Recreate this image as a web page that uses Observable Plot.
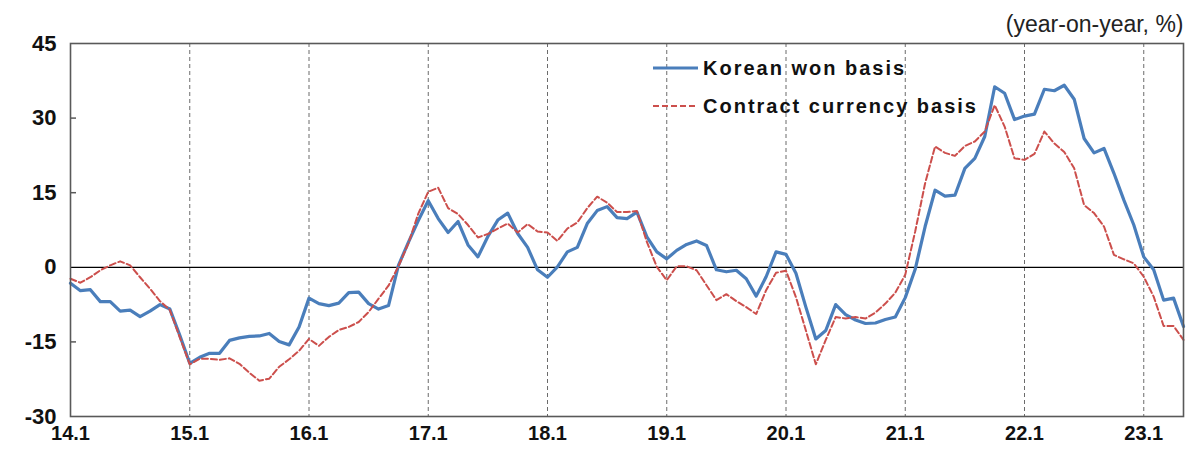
<!DOCTYPE html>
<html>
<head>
<meta charset="utf-8">
<script src="https://cdn.jsdelivr.net/npm/d3@7"></script>
<script src="https://cdn.jsdelivr.net/npm/@observablehq/plot@0.6"></script>
<style>
  html, body { margin: 0; padding: 0; background: #fff; }
  #wrap { position: relative; width: 1187px; height: 452px; font-family: "Liberation Sans", Arial, sans-serif; }
  #legend { position: absolute; left: 0; top: 0; pointer-events: none; }
</style>
</head>
<body>
<div id="wrap"></div>
<script>
// Monthly, 2014.1 .. 2023.5 (year-on-year, %)
const startYear = 2014;
const wonBasis = [
  -3.2, -4.7, -4.5, -6.9, -6.9, -8.8, -8.6, -9.9, -8.8, -7.5, -8.4, -13.7,
  -19.3, -18.1, -17.3, -17.3, -14.7, -14.2, -13.9, -13.8, -13.3, -14.9, -15.6, -12.0,
  -6.2, -7.3, -7.7, -7.2, -5.1, -5.0, -7.3, -8.4, -7.7, 0.4, 5.0, 9.4,
  13.4, 9.8, 7.0, 9.2, 4.5, 2.1, 6.2, 9.5, 10.9, 6.8, 4.0, -0.5,
  -2.0, 0.1, 3.1, 4.0, 8.8, 11.4, 12.2, 10.0, 9.8, 11.1, 6.1, 3.1,
  1.7, 3.4, 4.6, 5.3, 4.4, -0.5, -0.9, -0.6, -2.3, -5.8, -1.9, 3.1,
  2.6, -1.2, -8.0, -14.4, -12.7, -7.5, -9.5, -10.6, -11.3, -11.2, -10.5, -10.0,
  -6.1, -0.4, 8.2, 15.5, 14.3, 14.5, 19.9, 21.9, 26.3, 36.3, 35.0, 29.7,
  30.4, 30.8, 35.8, 35.5, 36.6, 33.8, 25.9, 23.0, 23.9, 18.9, 13.5, 8.5,
  2.1, -0.5, -6.6, -6.2, -11.9
];
const contractBasis = [
  -2.3, -3.1, -2.0, -0.6, 0.4, 1.2, 0.4, -2.0, -4.3, -6.8, -8.6, -14.1,
  -19.5, -18.4, -18.4, -18.6, -18.3, -19.4, -21.2, -22.8, -22.4, -20.0, -18.5, -16.8,
  -14.4, -15.8, -14.0, -12.6, -12.0, -11.0, -9.0, -6.3, -3.7, 0.2, 4.8, 10.8,
  15.2, 16.0, 11.9, 10.7, 8.5, 6.0, 6.7, 7.8, 8.8, 7.0, 8.7, 7.2,
  7.0, 5.3, 7.8, 9.0, 11.9, 14.2, 13.0, 11.1, 11.1, 11.3, 5.1, 0.1,
  -2.6, 0.2, 0.2, -0.6, -3.6, -6.6, -5.4, -6.8, -8.0, -9.4, -4.6, -1.1,
  -0.7, -6.0, -12.7, -19.5, -14.6, -10.0, -10.3, -10.0, -10.3, -9.1, -7.3, -5.1,
  -1.5, 7.2, 16.9, 24.3, 23.0, 22.4, 24.4, 25.3, 27.3, 32.6, 28.3, 21.9,
  21.6, 22.8, 27.3, 24.9, 23.2, 19.9, 12.5, 10.9, 8.2, 2.5, 1.6, 0.8,
  -1.9, -5.9, -11.8, -11.8, -14.6
];
const xTickLabels = ["14.1", "15.1", "16.1", "17.1", "18.1", "19.1", "20.1", "21.1", "22.1", "23.1"];
const yTicks = [-30, -15, 0, 15, 30, 45];
const seriesNames = ["Korean won basis", "Contract currency basis"];
const unitLabel = "(year-on-year, %)";

const months = wonBasis.map((_, i) => `${String((startYear + Math.floor(i / 12)) % 100)}.${(i % 12) + 1}`);
const rows = [];
months.forEach((m, i) => {
  rows.push({i, month: m, series: seriesNames[0], value: wonBasis[i]});
  rows.push({i, month: m, series: seriesNames[1], value: contractBasis[i]});
});
const xTickPos = xTickLabels.map((_, k) => k * 12);
const yearLines = xTickPos.slice(1);

const blue = "#4a7ebb";
const red = "#cc4f4c";

const chart = Plot.plot({
  width: 1187,
  height: 452,
  marginLeft: 70,
  marginRight: 4,
  marginTop: 43,
  marginBottom: 36,
  style: {fontFamily: "Liberation Sans, Arial, sans-serif", background: "#fff"},
  x: {domain: [0, months.length - 1]},
  y: {domain: [-30, 45]},
  marks: [
    Plot.ruleX(yearLines, {stroke: "#6b6b6b", strokeWidth: 1, strokeDasharray: "4,3"}),
    Plot.ruleY([0], {stroke: "#000", strokeWidth: 1.3}),
    Plot.axisY({ticks: [-15, 15, 30], tickSize: 6, dx: 6, tickFormat: () => "", stroke: "#595959", strokeWidth: 1.5, label: null}),
    Plot.axisY({ticks: yTicks, tickSize: 0, tickPadding: 14, tickFormat: d => String(d), fontSize: 22, fontWeight: "bold", fill: "#111", label: null, style: {letterSpacing: "3px"}}),
    Plot.axisX({ticks: xTickPos, tickSize: 0, tickPadding: 9, tickFormat: d => xTickLabels[d / 12], fontSize: 20, fontWeight: "bold", fill: "#111", label: null, style: {letterSpacing: "1.5px"}}),
    Plot.line(rows.filter(d => d.series === seriesNames[0]), {x: "i", y: "value", stroke: blue, strokeWidth: 3.2, strokeLinejoin: "round"}),
    Plot.line(rows.filter(d => d.series === seriesNames[1]), {x: "i", y: "value", stroke: red, strokeWidth: 2, strokeDasharray: "6,3"}),
    Plot.frame({stroke: "#595959", strokeWidth: 1.6}),
    Plot.text([unitLabel], {frameAnchor: "top-right", textAnchor: "end", lineAnchor: "bottom", dy: -12, dx: 0, fontSize: 23, fill: "#222", style: {letterSpacing: "1.3px"}})
  ]
});

const wrap = document.getElementById("wrap");
wrap.appendChild(chart);

// Legend overlay
const ns = "http://www.w3.org/2000/svg";
const lg = document.createElementNS(ns, "svg");
lg.setAttribute("id", "legend");
lg.setAttribute("width", 1187);
lg.setAttribute("height", 452);
const legendItems = [
  {name: seriesNames[0], color: blue, width: 3.2, dash: null, y: 68},
  {name: seriesNames[1], color: red, width: 2, dash: "6,3", y: 106}
];
legendItems.forEach(it => {
  const ln = document.createElementNS(ns, "line");
  ln.setAttribute("x1", 653); ln.setAttribute("x2", 698);
  ln.setAttribute("y1", it.y); ln.setAttribute("y2", it.y);
  ln.setAttribute("stroke", it.color);
  ln.setAttribute("stroke-width", it.width);
  if (it.dash) ln.setAttribute("stroke-dasharray", it.dash);
  lg.appendChild(ln);
  const tx = document.createElementNS(ns, "text");
  tx.setAttribute("x", 703);
  tx.setAttribute("y", it.y + 7);
  tx.setAttribute("font-size", 20);
  tx.setAttribute("font-weight", "bold");
  tx.setAttribute("fill", "#111");
  tx.setAttribute("font-family", "Liberation Sans, Arial, sans-serif");
  tx.setAttribute("letter-spacing", "2px");
  tx.textContent = it.name;
  lg.appendChild(tx);
});
wrap.appendChild(lg);
</script>
</body>
</html>
